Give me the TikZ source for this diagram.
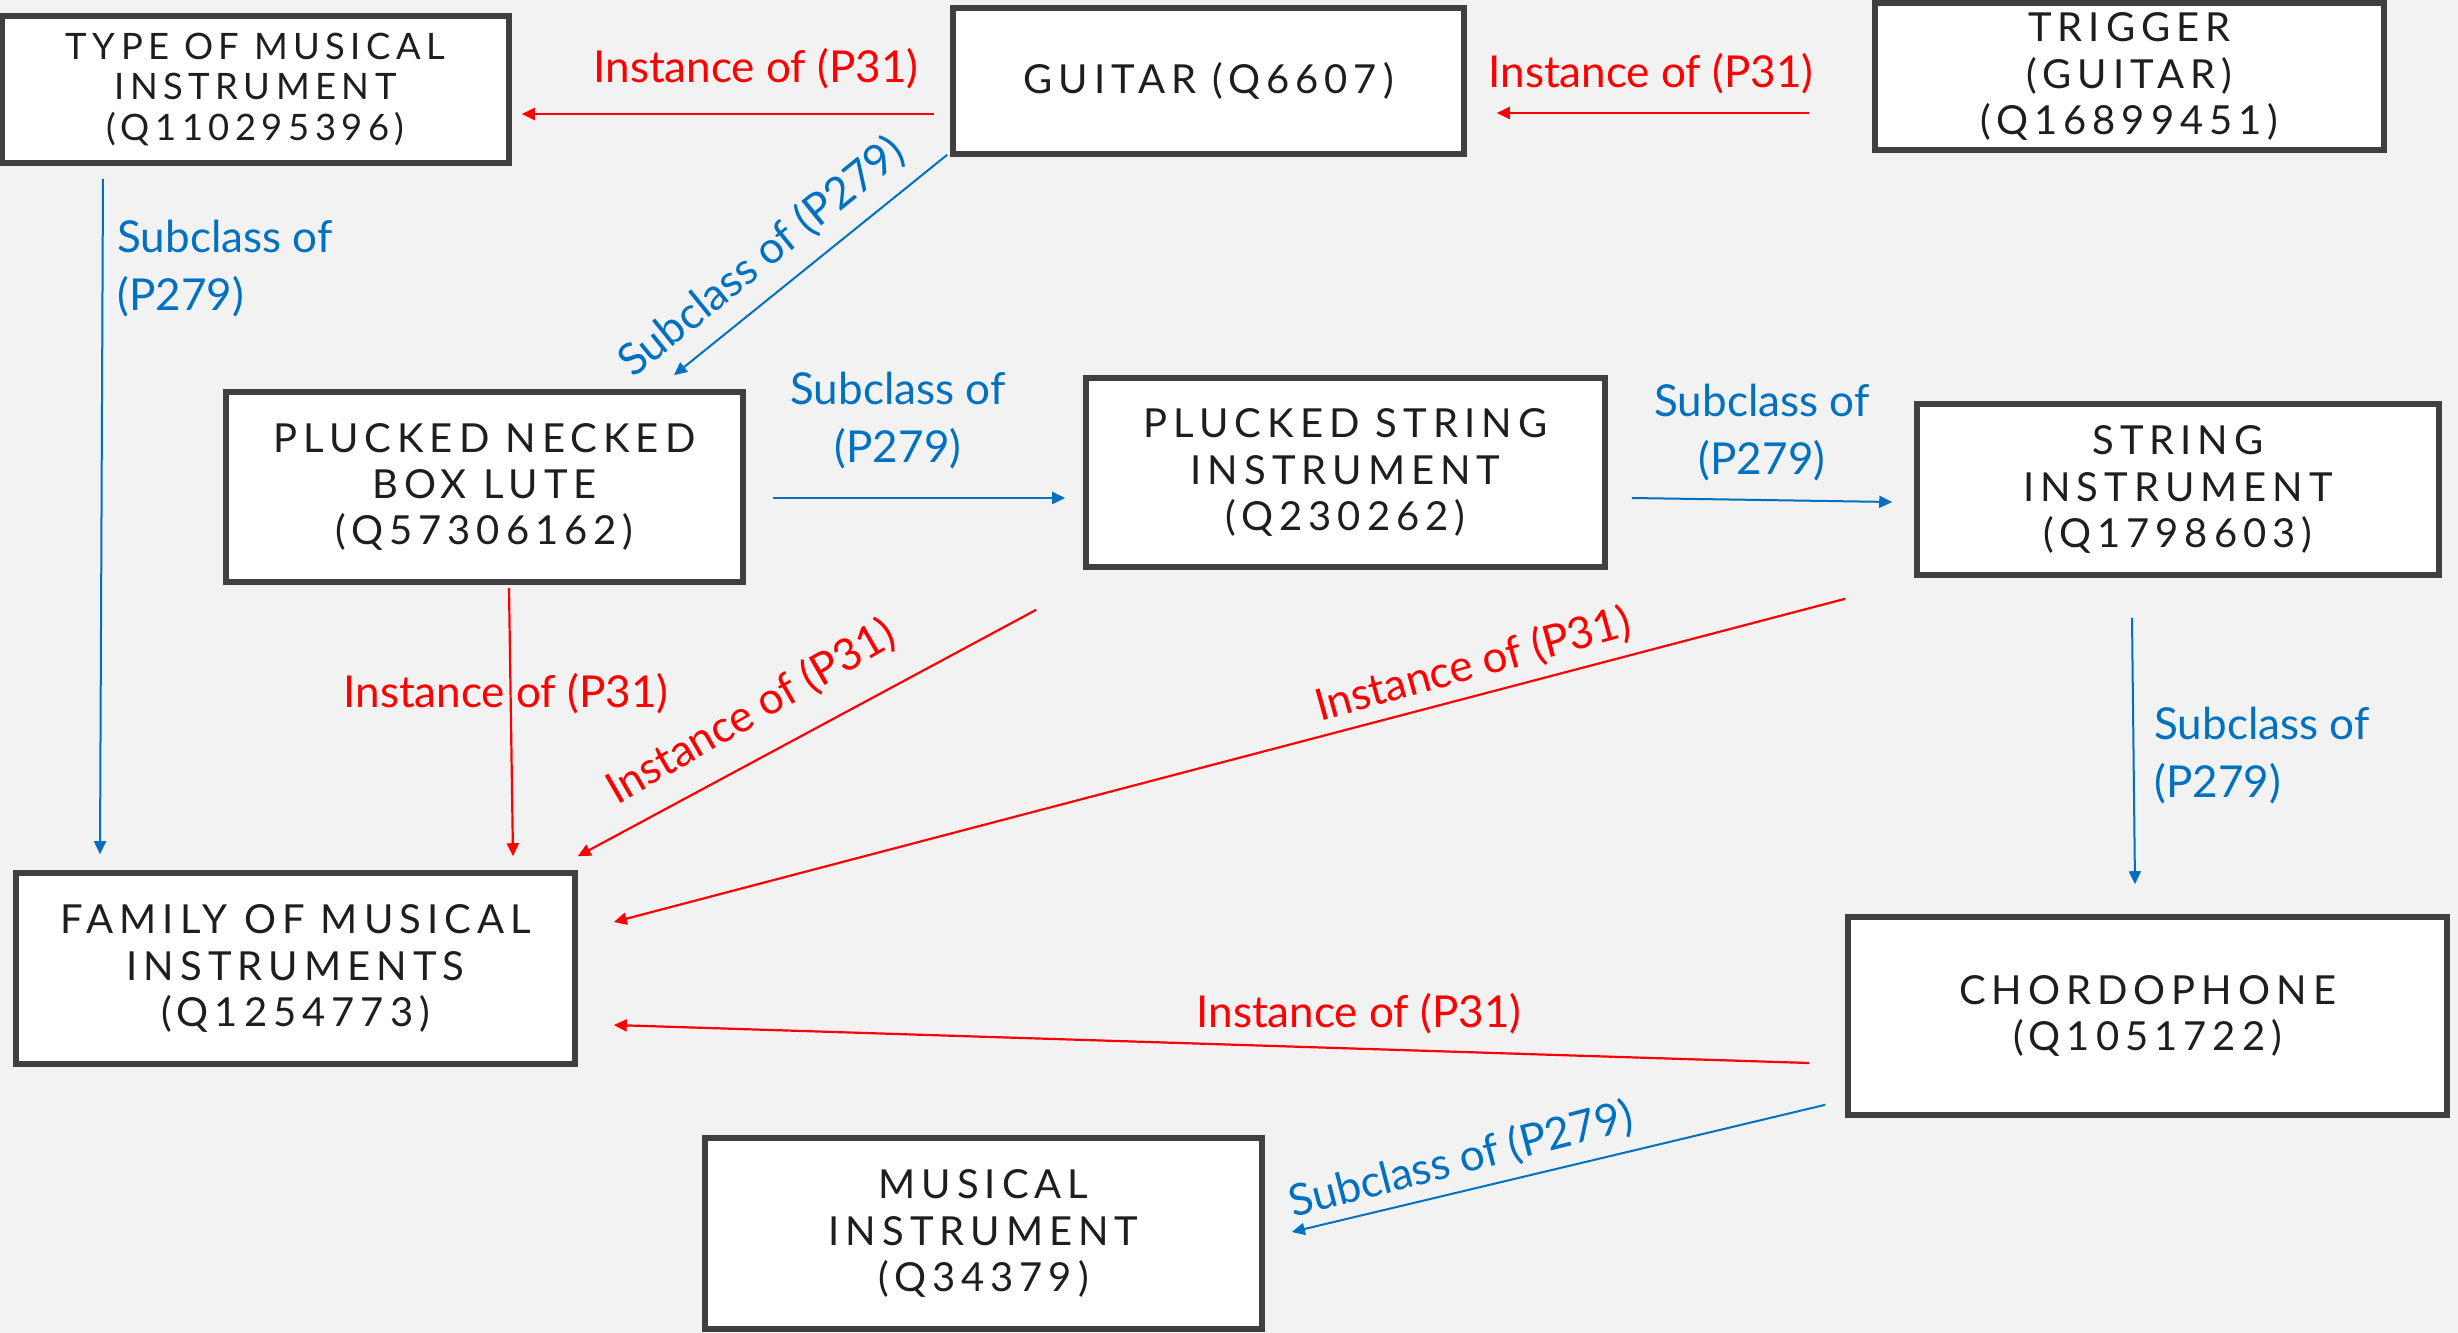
\documentclass[tikz,border=0pt]{standalone}
\usepackage{fontspec}
\setmainfont{Lato}
\newfontfamily\boxfont[LetterSpace=15]{Lato}
\usetikzlibrary{arrows.meta,calc}
\definecolor{bgc}{HTML}{F2F2F2}
\definecolor{boxc}{HTML}{404040}
\definecolor{txtc}{HTML}{1E1E1E}
\definecolor{redc}{HTML}{FF0000}
\definecolor{bluc}{HTML}{0070C0}
\begin{document}
\begin{tikzpicture}[x=0.5pt,y=-0.5pt,
  box/.style={draw=boxc, line width=2.8pt, fill=white, align=center, text=txtc,
    font=\boxfont\fontsize{20}{23.1}\selectfont, inner sep=0pt},
  smallbox/.style={box, font=\boxfont\fontsize{18.2}{20.4}\selectfont},
  subarr/.style={draw=bluc, line width=1pt, -{Triangle[length=6.5pt,width=6pt]}},
  insarr/.style={draw=redc, line width=1.1pt, -{Triangle[length=6.5pt,width=6pt]}},
  lab/.style={font=\fontsize{22}{29}\selectfont, inner sep=0pt, align=center},
  sublab/.style={lab, text=bluc},
  inslab/.style={lab, text=redc}]
\fill[bgc] (0,0) rectangle (2458,1333);
\useasboundingbox (0,0) rectangle (2458,1333);

% boxes
\node[smallbox, minimum width=253.5pt, minimum height=73.5pt] (type) at (255.5,89.5) {TYPE OF MUSICAL\\INSTRUMENT\\(Q110295396)};
\node[box, minimum width=255.5pt, minimum height=73pt] (guitar) at (1208.5,81) {GUITAR (Q6607)};
\node[box, minimum width=254.5pt, minimum height=73.5pt] (trigger) at (2129.5,76.5) {TRIGGER\\(GUITAR)\\(Q16899451)};
\node[box, minimum width=258.5pt, minimum height=95pt] (pnbl) at (484.5,487) {PLUCKED NECKED\\BOX LUTE\\(Q57306162)};
\node[box, minimum width=259.5pt, minimum height=94.5pt] (pstr) at (1345.5,472.5) {PLUCKED STRING\\INSTRUMENT\\(Q230262)};
\node[box, minimum width=261pt, minimum height=85.5pt] (string) at (2178,489.5) {STRING\\INSTRUMENT\\(Q1798603)};
\node[box, minimum width=279.5pt, minimum height=95.5pt] (family) at (295.5,968.5) {FAMILY OF MUSICAL\\INSTRUMENTS\\(Q1254773)};
\node[box, minimum width=299.5pt, minimum height=99pt] (chord) at (2147.5,1016) {CHORDOPHONE\\(Q1051722)};
\node[box, minimum width=278.5pt, minimum height=95.5pt] (musical) at (983.5,1233.5) {MUSICAL\\INSTRUMENT\\(Q34379)};

% connectors
\draw[insarr] ([shift={(-16,33)}]guitar.west) -- ([shift={(10,24.5)}]type.east);
\draw[insarr] ([shift={(-63,36.5)}]trigger.west) -- ([shift={(30,32)}]guitar.east);
\draw[subarr] ([shift={(-3,-2)}]guitar.south west) -- ([shift={(189.5,-14)}]pnbl.north);
\draw[subarr] ([shift={(-152.5,13)}]type.south) -- ([shift={(-195.5,-16)}]family.north);
\draw[subarr] ([shift={(27,11)}]pnbl.east) -- ([shift={(-18,25.5)}]pstr.west);
\draw[subarr] ([shift={(24,25.5)}]pstr.east) -- ([shift={(-22,12.5)}]string.west);
\draw[subarr] ([shift={(-46,40)}]string.south) -- ([shift={(-12.5,-30)}]chord.north);
\draw[insarr] ([shift={(24.5,3)}]pnbl.south) -- ([shift={(217.5,-14)}]family.north);
\draw[insarr] ([shift={(-47,40)}]pstr.south west) -- ([shift={(0,-14)}]family.north east);
\draw[insarr] ([shift={(-69,21)}]string.south west) -- ([shift={(36,-46.5)}]family.east);
\draw[insarr] ([shift={(-36,47)}]chord.west) -- ([shift={(36,56.5)}]family.east);
\draw[subarr] ([shift={(-20,-13)}]chord.south west) -- ([shift={(27,-1.5)}]musical.east);

% labels
\node[inslab] (l1) at (756,69) {Instance of (P31)};
\node[inslab] (l2) at (1651,74) {Instance of (P31)};
\node[sublab, rotate=39] (l3) at (762,257) {Subclass of (P279)};
\node[sublab, anchor=west, align=left] (l4) at (117,269) {Subclass of\\(P279)};
\node[sublab] (l5) at (898,421) {Subclass of\\(P279)};
\node[sublab] (l6) at (1762,433) {Subclass of\\(P279)};
\node[sublab, anchor=west, align=left] (l7) at (2154,756) {Subclass of\\(P279)};
\node[inslab] (l8) at (506,694) {Instance of (P31)};
\node[inslab, rotate=30] (l9) at (751,712) {Instance of (P31)};
\node[inslab, rotate=15.5] (l10) at (1473,665) {Instance of (P31)};
\node[inslab] (l11) at (1359,1014) {Instance of (P31)};
\node[sublab, rotate=14.5] (l12) at (1461,1160) {Subclass of (P279)};
\end{tikzpicture}
\end{document}
